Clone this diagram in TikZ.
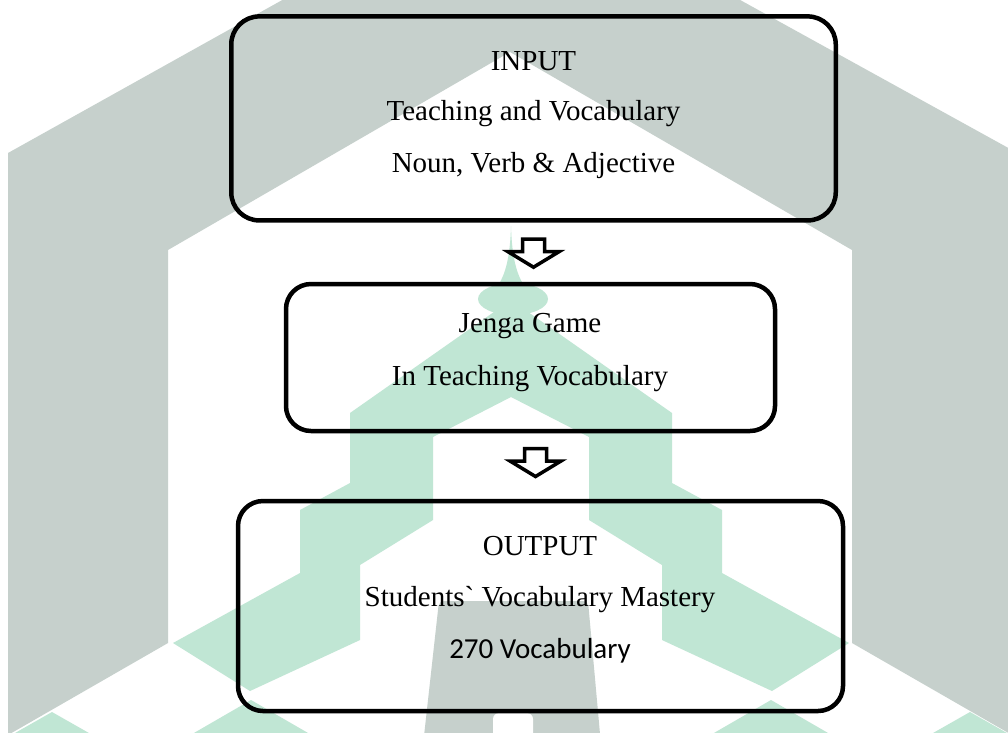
\documentclass[tikz,border=0pt]{standalone}
\usepackage{fontspec}
\newfontfamily\tnrfont{Liberation Serif}
\newfontfamily\calfont{Carlito}
\usetikzlibrary{calc}
\definecolor{wmgray}{RGB}{198,208,204}
\definecolor{wmgreen}{RGB}{192,230,212}
\begin{document}
\begin{tikzpicture}[x=1pt,y=-1pt,
  box/.style={draw=black, line width=4.5pt, rounded corners=#1, inner sep=0pt, shape=rectangle},
  box/.default=25pt,
  txt/.style={font=\tnrfont\fontsize{29}{34}\selectfont, anchor=base, inner sep=0pt},
  txtc/.style={font=\calfont\fontsize{29}{34}\selectfont, anchor=base, inner sep=0pt},
  blockarrow/.style={draw=black, line width=3.5pt, line join=miter}]
\useasboundingbox (0,0) rectangle (1008,732);
\fill[white] (0,0) rectangle (1008,732);
% watermark
\begin{scope}
\clip (0,0) rectangle (1008,732);
\fill[wmgray] (8,735) -- (8,153) -- (510,-127) -- (1012,150) -- (1012,735) -- (852,643) -- (852,250) -- (510,52) -- (168,250) -- (168,643) -- cycle;
\fill[wmgray, rounded corners=5pt] (423,745) -- (439,601) -- (588,601) -- (601,745) -- cycle;
\fill[white, rounded corners=6pt] (493,745) -- (493,713) -- (533,713) -- (533,745);
\fill[wmgreen] (511,226) .. controls (512,262) and (518,278) .. (527,290) -- (495,290) .. controls (504,278) and (510,262) .. (511,226) -- cycle;
\fill[wmgreen] (511,300) -- (350,413) -- (350,483) -- (300,510) -- (300,573) -- (173,643) -- (250,691) -- (360,640) -- (360,565) -- (433,520) -- (433,437) -- (511,397) -- (589,437) -- (589,520) -- (662,565) -- (662,640) -- (772,691) -- (849,643) -- (722,573) -- (722,510) -- (672,483) -- (672,413) -- cycle;
\fill[wmgreen] (513,299) ellipse [x radius=35pt, y radius=16pt];
\fill[wmgreen] (8,737) -- (52,712) -- (96,737) -- cycle;
\fill[wmgreen] (187,737) -- (251,700) -- (315,737) -- cycle;
\fill[wmgreen] (707,737) -- (771,700) -- (835,737) -- cycle;
\fill[wmgreen] (926,737) -- (970,712) -- (1014,737) -- cycle;
\end{scope}
% boxes
\node[box=28pt, minimum width=604.5pt, minimum height=204pt] (in) at (533.5,118.4) {};
\node[box, minimum width=489pt, minimum height=147pt] (jg) at (530.5,357.5) {};
\node[box, minimum width=605pt, minimum height=210pt] (out) at (540.5,606) {};
% texts
\node[txt] (t1) at (533.5,70) {INPUT};
\node[txt] (t2) at (533.5,120) {Teaching and Vocabulary};
\node[txt] (t3) at (533.5,172) {Noun, Verb \& Adjective};
\node[txt] (t4) at (530,332) {Jenga Game};
\node[txt] (t5) at (530,385) {In Teaching Vocabulary};
\node[txt] (t6) at (540,555) {OUTPUT};
\node[txt] (t7) at (540,606) {Students` Vocabulary Mastery};
\node[txtc] (t8) at (540,658) {270 Vocabulary};
% arrows
\coordinate (a1) at ($(in.south)!0.5!(jg.north)+(1.5,1)$);
\coordinate (a2) at ($(jg.south)!0.5!(out.north)+(0,-3.5)$);
\draw[blockarrow, shift={(a1)}] (-11,-14) -- (11,-14) -- (11,-1.5) -- (25.5,-1.5) -- (0,14) -- (-25.5,-1.5) -- (-11,-1.5) -- cycle;
\draw[blockarrow, shift={(a2)}] (-11,-14) -- (11,-14) -- (11,-1.5) -- (25.5,-1.5) -- (0,14) -- (-25.5,-1.5) -- (-11,-1.5) -- cycle;
\end{tikzpicture}
\end{document}
